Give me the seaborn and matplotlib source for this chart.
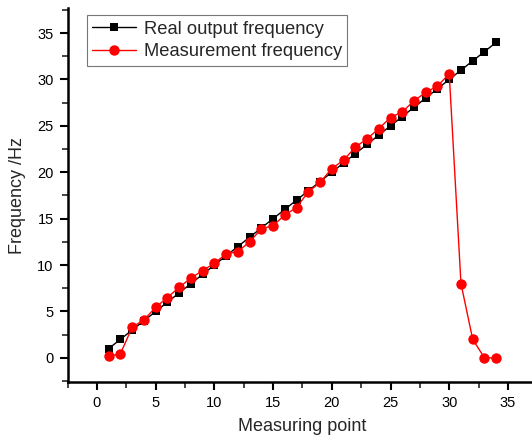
import numpy as np
import matplotlib
matplotlib.use("Agg")
import matplotlib.pyplot as plt
import seaborn as sns
from matplotlib.ticker import MultipleLocator

# ---------------------- DATA ----------------------
points = list(range(1, 35))
real_freq = [1, 2, 3, 4, 5, 6, 7, 8, 9, 10, 11, 12, 13, 14, 15, 16, 17,
             18, 19, 20, 21, 22, 23, 24, 25, 26, 27, 28, 29, 30, 31, 32, 33, 34]
meas_freq = [0.15, 0.45, 3.3, 4.1, 5.45, 6.5, 7.6, 8.6, 9.4, 10.2, 11.2, 11.45,
             12.5, 13.9, 14.25, 15.4, 16.2, 17.9, 18.9, 20.4, 21.3, 22.7, 23.6,
             24.7, 25.9, 26.5, 27.7, 28.6, 29.3, 30.6, 8.0, 2.0, 0.0, 0.0]

# ---------------------- STYLE ----------------------
sns.set_style("ticks")
plt.rcParams['font.family'] = ['Liberation Sans', 'DejaVu Sans']

fig = plt.figure(figsize=(5.32, 4.45), dpi=100)
ax = fig.add_axes([67.6 / 532, 63 / 445, 469.7 / 532, 374 / 445])

sns.lineplot(x=points, y=real_freq, ax=ax, color='black', marker='s',
             markersize=6, markeredgewidth=0, linewidth=1,
             label='Real output frequency')
sns.lineplot(x=points, y=meas_freq, ax=ax, color='red', marker='o',
             markersize=7.5, markeredgewidth=0, linewidth=1,
             label='Measurement frequency')

ax.set_xlim(-2.5, 37.5)
ax.set_ylim(-2.6, 37.7)
ax.xaxis.set_major_locator(MultipleLocator(5))
ax.xaxis.set_minor_locator(MultipleLocator(2.5))
ax.yaxis.set_major_locator(MultipleLocator(5))
ax.yaxis.set_minor_locator(MultipleLocator(2.5))

for side in ['top', 'right']:
    ax.spines[side].set_visible(False)
for side in ['left', 'bottom']:
    ax.spines[side].set_linewidth(1.8)
    ax.spines[side].set_color('black')

ax.tick_params(which='major', direction='out', length=6, width=1.5,
               labelsize=10.5, colors='black', pad=4)
ax.tick_params(which='minor', direction='out', length=4, width=1.2)

ax.set_xlabel('Measuring point', fontsize=13, labelpad=6)
ax.set_ylabel('Frequency /Hz', fontsize=13, labelpad=8)

leg = ax.legend(loc='upper left', bbox_to_anchor=(0.041, 0.981),
                borderaxespad=0, fontsize=13.2, frameon=True, fancybox=False,
                handlelength=2.4, handletextpad=0.4, borderpad=0.3,
                labelspacing=0.3)
leg.get_frame().set_edgecolor('#555555')
leg.get_frame().set_linewidth(0.8)

fig.savefig('out.png', dpi=100)
